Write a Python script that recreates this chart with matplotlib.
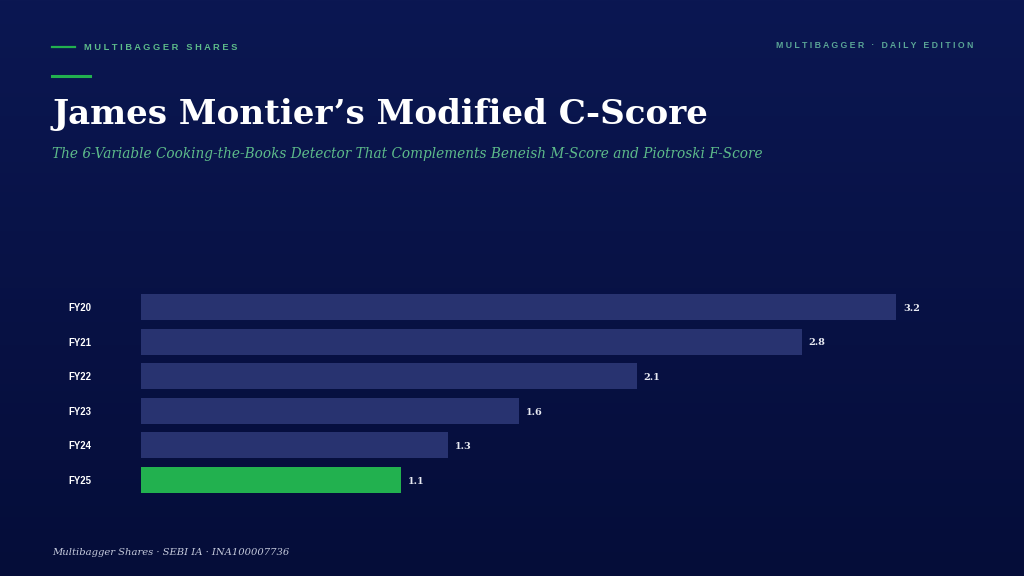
import numpy as np
import matplotlib
matplotlib.use("Agg")
import matplotlib.pyplot as plt
from matplotlib.colors import LinearSegmentedColormap

# data
years = ['FY20', 'FY21', 'FY22', 'FY23', 'FY24', 'FY25']
c_score = [3.2, 2.8, 2.1, 1.6, 1.3, 1.1]
value_labels = ['3.2', '2.8', '2.1', '1.6', '1.3', '1.1']
highlight = 'FY25'

bg_top = '#0b1752'
bg_bottom = '#050d39'
bar_col = '#283370'
green = '#22b14f'
label_green = '#5dbb8a'

def spaced(s):
    # fake letter spacing
    return ' '.join(s)

fig = plt.figure(figsize=(10.24, 5.76), dpi=100)

# background gradient
bg = fig.add_axes([0, 0, 1, 1])
grad = np.linspace(0, 1, 256).reshape(-1, 1)
cmap = LinearSegmentedColormap.from_list('bg', [bg_top, bg_bottom])
bg.imshow(grad, aspect='auto', cmap=cmap, extent=[0, 1, 0, 1])
bg.set_xlim(0, 1)
bg.set_ylim(0, 1)
bg.axis('off')

# header
bg.plot([52/1024, 75/1024], [1-47/576, 1-47/576], color=green, lw=1.6)
bg.plot([52/1024, 90/1024], [1-76/576, 1-76/576], color=green, lw=2.2)
fig.text(84/1024, 1-47/576, spaced('MULTIBAGGER SHARES'), color=label_green,
         fontsize=6.7, fontweight='bold', family='Liberation Sans', va='center')
fig.text(973/1024, 1-46/576, spaced('MULTIBAGGER · DAILY EDITION'), color='#5aa596',
         fontsize=6.3, fontweight='bold', family='Liberation Sans', va='center', ha='right')
fig.text(52/1024, 1-124/576, 'James Montier\u2019s Modified C-Score', color='white',
         fontsize=24.6, fontweight='bold', family='DejaVu Serif', va='baseline')
fig.text(52/1024, 1-158/576,
         'The 6-Variable Cooking-the-Books Detector That Complements Beneish M-Score and Piotroski F-Score',
         color=label_green, fontsize=9.8, style='italic', family='DejaVu Serif', va='baseline')
fig.text(52/1024, 1-555/576, 'Multibagger Shares · SEBI IA · INA100007736', color='#c5cadc',
         fontsize=7.2, style='italic', family='DejaVu Serif', va='baseline')

# chart
ax = fig.add_axes([141/1024, 0.1307, 236*3.6/1024, 0.3724])
ax.set_facecolor('none')
y = np.arange(len(years))
colors = [green if yr == highlight else bar_col for yr in years]
ax.barh(y, c_score, height=0.75, color=colors)
for yi, v, t in zip(y, c_score, value_labels):
    ax.annotate(t, (v, yi), xytext=(5, -1), textcoords='offset points', va='center',
                color='#e8eaf2', fontsize=7, fontweight='bold', family='DejaVu Serif')
ax.set_xlim(0, 3.6)
ax.set_ylim(len(years) - 0.4, -0.6)
ax.set_xticks([])
ax.set_yticks(y)
ax.set_yticklabels(years, fontsize=6.9, fontweight='bold', family='Liberation Sans',
                   color='white', ha='left')
ax.tick_params(axis='y', length=0, pad=52)
for s in ax.spines.values():
    s.set_visible(False)

fig.savefig('out.png', dpi=100)
